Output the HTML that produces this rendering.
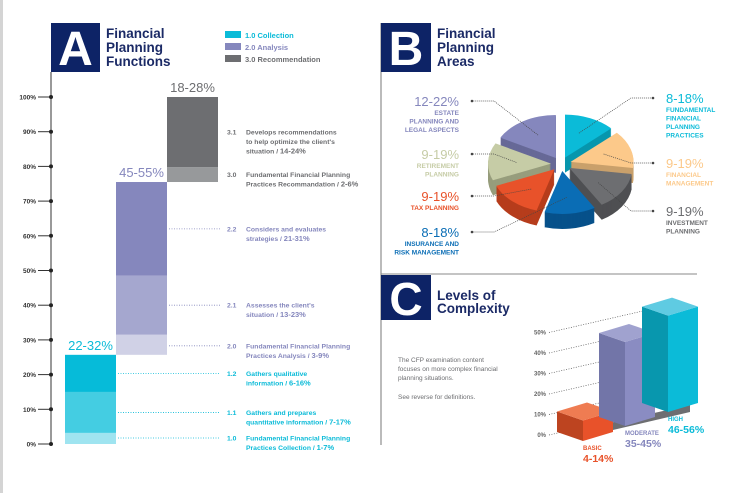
<!DOCTYPE html>
<html><head><meta charset="utf-8"><style>
html,body{margin:0;padding:0;background:#fff;}
body{width:753px;height:493px;overflow:hidden;font-family:"Liberation Sans",sans-serif;}
svg text{font-family:"Liberation Sans",sans-serif;}
</style></head><body>
<svg id="s" width="753" height="493" viewBox="0 0 753 493" xmlns="http://www.w3.org/2000/svg">
<rect x="0" y="0" width="3" height="493" fill="#d4d4d4"/>
<g>
<rect x="51" y="23" width="49" height="49" fill="#0d2366"/>
<text x="75.5" y="65" font-size="48" font-weight="bold" fill="#fff" text-anchor="middle">A</text>
<text font-size="13.5" font-weight="bold" fill="#1b2a66"><tspan x="106" y="38">Financial</tspan><tspan x="106" y="52">Planning</tspan><tspan x="106" y="66">Functions</tspan></text>
</g>
<g font-size="7.5" font-weight="bold">
<rect x="225" y="31" width="16" height="7" fill="#0bbbd8"/>
<text x="245" y="38" fill="#0bbbd8">1.0  Collection</text>
<rect x="225" y="43" width="16" height="7" fill="#8587bd"/>
<text x="245" y="50" fill="#8587bd">2.0  Analysis</text>
<rect x="225" y="55" width="16" height="7" fill="#6d6e71"/>
<text x="245" y="62" fill="#6d6e71">3.0  Recommendation</text>
</g>
<g id="chartA"></g>
<line x1="381" y1="23" x2="381" y2="445" stroke="#777" stroke-width="1"/>
<line x1="381" y1="274" x2="697" y2="274" stroke="#888" stroke-width="1"/>
<g>
<rect x="381" y="23" width="50" height="49" fill="#0d2366"/>
<text x="406" y="65" font-size="48" font-weight="bold" fill="#fff" text-anchor="middle">B</text>
<text font-size="13.5" font-weight="bold" fill="#1b2a66"><tspan x="437" y="38">Financial</tspan><tspan x="437" y="52">Planning</tspan><tspan x="437" y="66">Areas</tspan></text>
</g>
<g id="pie"></g>
<g id="pielabels"></g>
<g>
<rect x="381" y="275" width="50" height="45" fill="#0d2366"/>
<text x="406" y="315" font-size="46" font-weight="bold" fill="#fff" text-anchor="middle">C</text>
<text font-size="13.5" font-weight="bold" fill="#1b2a66"><tspan x="437" y="300">Levels of</tspan><tspan x="437" y="313">Complexity</tspan></text>
</g>
<text font-size="6.5" fill="#6d6e71"><tspan x="398" y="362">The CFP examination content</tspan><tspan x="398" y="371">focuses on more complex financial</tspan><tspan x="398" y="380">planning situations.</tspan><tspan x="398" y="399">See reverse for definitions.</tspan></text>
<g id="chartC"></g>
</svg>
<script>
const aTicks = [0,10,20,30,40,50,60,70,80,90,100];
const aGroups = ["Collection","Analysis","Recommendation"];
const aRanges = ["22-32%","45-55%","18-28%"];
const aCollection = [3.2, 11.8, 10.7];
const aAnalysis = [5.8, 17.0, 27.0];
const aRecommendation = [4.3, 20.2];
const aCollectionLabels = [["1.0","Fundamental Financial Planning","Practices Collection / ","1-7%"],["1.1","Gathers and prepares","quantitative information / ","7-17%"],["1.2","Gathers qualitative","information / ","6-16%"]];
const aAnalysisLabels = [["2.0","Fundamental Financial Planning","Practices Analysis / ","3-9%"],["2.1","Assesses the client's","situation / ","13-23%"],["2.2","Considers and evaluates","strategies / ","21-31%"]];
const aRecLabels = [["3.0","Fundamental Financial Planning","Practices Recommandation / ","2-6%"],["3.1","Develops recommendations","to help optimize the client's","situation / ","14-24%"]];

const bAreas = ["Fundamental Financial Planning Practices","Financial Management","Investment Planning","Insurance and Risk Management","Tax Planning","Retirement Planning","Estate Planning and Legal Aspects"];
const bValues = [13, 14, 14, 13, 14, 14, 17];
const bRanges = ["8-18%","9-19%","9-19%","8-18%","9-19%","9-19%","12-22%"];

const cTicks = [0,10,20,30,40,50];
const cLevels = ["BASIC","MODERATE","HIGH"];
const cValues = [10, 41, 47];
const cRanges = ["4-14%","35-45%","46-56%"];

const NS="http://www.w3.org/2000/svg";
function mk(tag, attrs, parent){const e=document.createElementNS(NS,tag);for(const k in attrs)e.setAttribute(k,attrs[k]);parent.appendChild(e);return e;}

(function(){
const g=document.getElementById('chartA');
const y0=444, y100=97;
const yA=v=>y0-(v/100)*(y0-y100);
const ax=mk('line',{x1:51,y1:72,x2:51,y2:y0},g);
ax.setAttribute('stroke','#333');


aTicks.forEach(t=>{
  const y=yA(t);
  const tl=mk('line',{x1:38,y1:y,x2:51,y2:y,stroke:'#333','stroke-width':1},g);
  
  
  const c=mk('circle',{cx:51,cy:y,r:2,fill:'#222'},g);
  
  
  const tx=mk('text',{x:36,y:y+2.5,'font-size':6.5,'font-weight':'bold',fill:'#333','text-anchor':'end'},g);
  tx.textContent=t+'%';
  
  
});
const groups=[
 {vals:aCollection,labels:aCollectionLabels,x:65,cols:['#9fe4f0','#44cde2','#06bbd9'],tc:'#0bbbd8'},
 {vals:aAnalysis,labels:aAnalysisLabels,x:116,cols:['#d0d1e6','#a5a7cf','#8587bd'],tc:'#8587bd'},
 {vals:aRecommendation,labels:aRecLabels,x:167,cols:['#97999b','#6d6e71'],tc:'#6d6e71'}];
let base=0;
groups.forEach((gr,gi)=>{
  let cum=base;
  gr.vals.forEach((v,i)=>{
    const top=cum+v;
    const r=mk('rect',{x:gr.x,y:yA(top),width:51,height:yA(cum)-yA(top),fill:gr.cols[i]},g);
    
    
    const lab=gr.labels[i];
    const segH=yA(cum)-yA(top);
    let ly = (segH>25)? (yA(top)+yA(cum))/2 : yA(top)+Math.min(segH/2,6);
    if(i===0 && gi===0) ly=yA(cum)-6;
    if(i===0 && gi>0) ly=yA(cum)-Math.min(segH/2,9);
    const ln=mk('line',{x1:gr.x+51+2,y1:ly,x2:220,y2:ly,stroke:gr.tc,'stroke-width':0.8,'stroke-dasharray':'1,1.5'},g);
    
    
    const num=mk('text',{x:227,y:ly+2.5,'font-size':6.8,'font-weight':'bold',fill:gr.tc},g);
    num.textContent=lab[0];
    
    
    const tx=mk('text',{'font-size':6.8,'font-weight':'bold',fill:gr.tc},g);
    
    
    const lines=lab.slice(1,lab.length-2);
    let yy=ly+2.5;
    lines.forEach(l=>{const ts=mk('tspan',{x:246,y:yy},tx);ts.textContent=l;yy+=9.5;});
    const ts=mk('tspan',{x:246,y:yy},tx);ts.textContent=lab[lab.length-2];
    const tb=mk('tspan',{'font-weight':'bold','font-size':7.5},tx);tb.textContent=lab[lab.length-1];
    cum=top;
  });
  const rl=mk('text',{x:gr.x+25.5,y:yA(cum)-5,'font-size':13,fill:gr.tc,'text-anchor':'middle'},g);
  rl.textContent=aRanges[gi];
  
  
  base=cum;
});
})();

(function(){
const g=document.getElementById('pie');
const cx=561, cy=164, rx=63, ry=43, depth=15, explode=10;
const top=['#0bbbd8','#fcc98a','#6d6e71','#0a6db5','#e8522a','#c6cca6','#8587bd'];
const side=['#0796ad','#c9a06b','#4e4f52','#07518a','#b63d1c','#979d7c','#676997'];
const total=bValues.reduce((a,b)=>a+b,0);
let ang=-Math.PI/2;
const slices=[];
bValues.forEach((v,i)=>{const a0=ang,a1=ang+v/total*2*Math.PI;slices.push({i,a0,a1,m:(a0+a1)/2});ang=a1;});
function wedge(s,dy){
  const ox=cx+explode*Math.cos(s.m), oy=cy+explode*0.7*Math.sin(s.m)+dy;
  const p1=[ox+rx*Math.cos(s.a0),oy+ry*Math.sin(s.a0)], p2=[ox+rx*Math.cos(s.a1),oy+ry*Math.sin(s.a1)];
  return `M${ox},${oy} L${p1[0]},${p1[1]} A${rx},${ry} 0 0 1 ${p2[0]},${p2[1]} Z`;
}
const order=slices.slice().sort((a,b)=>Math.sin(a.m)-Math.sin(b.m));
order.forEach(s=>{
  for(let d=depth;d>0;d-=1){
    const p=mk('path',{d:wedge(s,d),fill:side[s.i]},g);
    
    
  }
  const p=mk('path',{d:wedge(s,0),fill:top[s.i]},g);
  
  
});
const L=document.getElementById('pielabels');
const defs=[
 {i:0,side:'r',y:100,words:['FUNDAMENTAL','FINANCIAL','PLANNING','PRACTICES'],col:'#0bbbd8'},
 {i:1,side:'r',y:165,words:['FINANCIAL','MANAGEMENT'],col:'#fcc98a'},
 {i:2,side:'r',y:213,words:['INVESTMENT','PLANNING'],col:'#6d6e71'},
 {i:3,side:'l',y:234,words:['INSURANCE AND','RISK MANAGEMENT'],col:'#0a6db5'},
 {i:4,side:'l',y:198,words:['TAX PLANNING'],col:'#e8522a'},
 {i:5,side:'l',y:156,words:['RETIREMENT','PLANNING'],col:'#c6cca6'},
 {i:6,side:'l',y:103,words:['ESTATE','PLANNING AND','LEGAL ASPECTS'],col:'#8587bd'}];
defs.forEach(d=>{
  const s=slices[d.i];
  const tx=cx+(explode+rx*0.55)*Math.cos(s.m), ty=cy+(explode+ry*0.55)*Math.sin(s.m);
  const lx=d.side==='r'?653:472;
  const ly=d.y-2;
  const bx=d.side==='r'?lx-22:lx+22;
  const pl=mk('polyline',{points:`${tx},${ty} ${bx},${ly} ${lx},${ly}`,fill:'none',stroke:'#444','stroke-width':0.7,'stroke-dasharray':'1,1'},L);
  
  
  const c=mk('circle',{cx:lx,cy:ly,r:1.3,fill:'#444'},L);
  
  
  const ax=d.side==='r'?666:459, anc=d.side==='r'?'start':'end';
  const big=mk('text',{x:ax,y:d.y+3,'font-size':13,fill:d.col,'text-anchor':anc},L);
  big.textContent=bRanges[d.i];
  
  
  const sm=mk('text',{'font-size':6.5,'font-weight':'bold',fill:d.col,'text-anchor':anc},L);
  
  
  d.words.forEach((w,k)=>{const t=mk('tspan',{x:ax,y:d.y+12+k*8.5},sm);t.textContent=w;});
});
})();

(function(){
const g=document.getElementById('chartC');
const k=2.05;
const y0=435;
cTicks.forEach(t=>{
  const y=y0-t*k;
  const tx=mk('text',{x:546,y:y+2,'font-size':6,'font-weight':'bold',fill:'#666','text-anchor':'end'},g);
  tx.textContent=t+'%';
  
  
  const ln=mk('line',{x1:549,y1:y,x2:645,y2:y-22,stroke:'#555','stroke-width':0.7,'stroke-dasharray':'1,1.5'},g);
  
  
});
const fx=[583,625,668], base=[441,426,412];
const cols=[['#bd4420','#e8522a','#ef7c52'],['#7275a8','#8a8cc2','#a0a2cf'],['#0897ae','#0bbbd8','#5fcbe2']];
const lcols=['#e8522a','#8587bd','#0bbbd8'];
// floor shadow
const sh=mk('polygon',{points:'600,433 690,412 690,405 605,424',fill:'#6d6e71'},g);


cLevels.forEach((lv,i)=>{
  const f=fx[i], b=base[i], h=cValues[i]*k, t=b-h;
  const lw=26, rw=30, up=9;
  const lf=mk('polygon',{points:`${f},${b} ${f-lw},${b-up} ${f-lw},${t-up} ${f},${t}`,fill:cols[i][0]},g);
  
  
  const rf=mk('polygon',{points:`${f},${b} ${f+rw},${b-up} ${f+rw},${t-up} ${f},${t}`,fill:cols[i][1]},g);
  
  
  const tf=mk('polygon',{points:`${f},${t} ${f-lw},${t-up} ${f-lw+rw},${t-2*up} ${f+rw},${t-up}`,fill:cols[i][2]},g);
  
  
  const lx=f, ly=b+9;
  const l1=mk('text',{x:lx,y:ly,'font-size':6,'font-weight':'bold',fill:lcols[i]},g);
  l1.textContent=lv;
  
  
  const l2=mk('text',{x:lx,y:ly+12,'font-size':10.5,'font-weight':'bold',fill:lcols[i]},g);
  l2.textContent=cRanges[i];
  
  
});
})();
</script>
</body></html>
